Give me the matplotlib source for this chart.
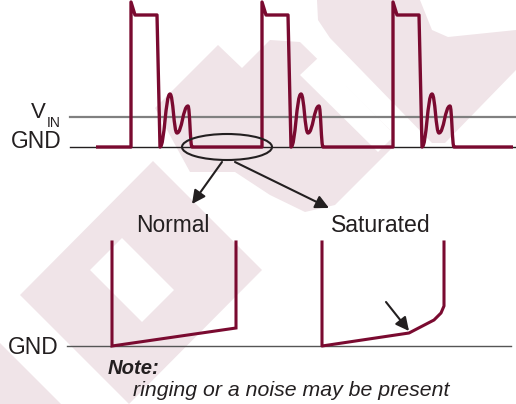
import matplotlib
matplotlib.use('Agg')
import matplotlib.pyplot as plt
from matplotlib.path import Path
from matplotlib.patches import PathPatch, Ellipse, Polygon

plt.rcParams['font.family'] = ['Liberation Sans', 'DejaVu Sans']

# switch node trace (x = time, y = level, screen units, 0 at top)
gnd_level = 147
vin_level = 117
trace_start = 96
trace_end = 513
pulse_rise = [131, 262, 393]
# one pulse, relative to its rising edge
edge_dx = [0, 4, 26, 29]
edge_y = [2, 15, 15, 147]
ring_dx = [29, 39, 46, 57, 61]
ring_y = [147, 94, 133, 106, 147]

# zoomed low-side views
gnd_level_zoom = 346
normal_x = [112, 112, 236, 236]
normal_y = [242, 346, 328, 242]
sat_x = [322, 322, 409, 434, 441, 444, 444]
sat_y = [242, 346, 333, 320, 313, 306, 242]

trace_color = '#7a0a30'
text_color = '#231f20'
wm_color = '#f0e4e8'

fig = plt.figure(figsize=(5.16, 4.04), dpi=100)
ax = fig.add_axes([0, 0, 1, 1])
ax.set_xlim(0, 516)
ax.set_ylim(404, 0)
ax.axis('off')

# faint logo watermark in the background (rough)
wm_shapes = [
    [(153, 161), (262, 270), (129, 404), (20, 295)],
    [(0, 343), (61, 404), (0, 404)],
    [(155, 108), (218, 45), (242, 68), (270, 40), (300, 42), (390, 130),
     (392, 148), (335, 205), (305, 212), (270, 195), (235, 172), (190, 172)],
    [(317, 0), (516, 0), (516, 70), (445, 143), (432, 143), (330, 38), (318, 20)],
]
wm_holes = [
    [(90, 270), (122, 238), (174, 290), (142, 322)],
    [(420, 0), (516, 0), (516, 30), (448, 37), (432, 30)],
    [(300, 75), (318, 58), (395, 135), (378, 152)],
]
for pts in wm_shapes:
    ax.add_patch(Polygon(pts, closed=True, fc=wm_color, ec='none', zorder=0))
for pts in wm_holes:
    ax.add_patch(Polygon(pts, closed=True, fc='white', ec='none', zorder=0.5))

# reference lines
ax.plot([70, 516], [vin_level, vin_level], color='#808080', lw=1.6, zorder=1)
ax.plot([70, 516], [gnd_level, gnd_level], color=text_color, lw=1.0, zorder=1)
ax.plot([67, 511], [gnd_level_zoom, gnd_level_zoom], color='#555555', lw=1.0, zorder=1)

# switching waveform with ringing after each pulse
verts = [(trace_start, gnd_level)]
codes = [Path.MOVETO]
for r in pulse_rise:
    verts.append((r, gnd_level))
    codes.append(Path.LINETO)
    for dx, y in zip(edge_dx, edge_y):
        verts.append((r + dx, y))
        codes.append(Path.LINETO)
    for i in range(len(ring_dx) - 1):
        x0, y0 = r + ring_dx[i], ring_y[i]
        x1, y1 = r + ring_dx[i + 1], ring_y[i + 1]
        k = 0.45 * (x1 - x0)
        verts += [(x0 + k, y0), (x1 - k, y1), (x1, y1)]
        codes += [Path.CURVE4] * 3
verts.append((trace_end, gnd_level))
codes.append(Path.LINETO)
ax.add_patch(PathPatch(Path(verts, codes), fc='none', ec=trace_color, lw=2.4,
                       joinstyle='round', zorder=3))

ax.plot(normal_x, normal_y, color=trace_color, lw=2.2, solid_joinstyle='miter', zorder=3)
ax.plot(sat_x, sat_y, color=trace_color, lw=2.2, solid_joinstyle='round', zorder=3)

# zoom ellipse and arrows
ax.add_patch(Ellipse((227, 147), 90, 26, fc='none', ec=text_color, lw=1.5, zorder=4))
arrow = dict(arrowstyle='-|>', color=text_color, lw=1.5, mutation_scale=20,
             shrinkA=0, shrinkB=0)
ax.annotate('', xy=(192, 204), xytext=(222, 162), arrowprops=arrow)
ax.annotate('', xy=(329, 208), xytext=(235, 162), arrowprops=arrow)
ax.annotate('', xy=(409, 331), xytext=(386, 302), arrowprops=arrow)

# labels
ax.text(31, 118, 'V', fontsize=16, color=text_color, va='baseline')
ax.text(46.5, 127, 'IN', fontsize=10, color=text_color, va='baseline')
ax.text(62, 148, 'GND', fontsize=16.4, color=text_color, ha='right', va='baseline')
ax.text(59, 354, 'GND', fontsize=16.4, color=text_color, ha='right', va='baseline')
ax.text(173, 232, 'Normal', fontsize=16.4, color=text_color, ha='center', va='baseline')
ax.text(381, 232, 'Saturated', fontsize=16.6, color=text_color, ha='center', va='baseline')
ax.text(108, 374, 'Note:', fontsize=14.6, color=text_color, fontweight='bold',
        fontstyle='italic', va='baseline')
ax.text(133, 396, 'ringing or a noise may be present', fontsize=15.3, color=text_color,
        fontstyle='italic', va='baseline')

fig.savefig('out.png', dpi=100)
